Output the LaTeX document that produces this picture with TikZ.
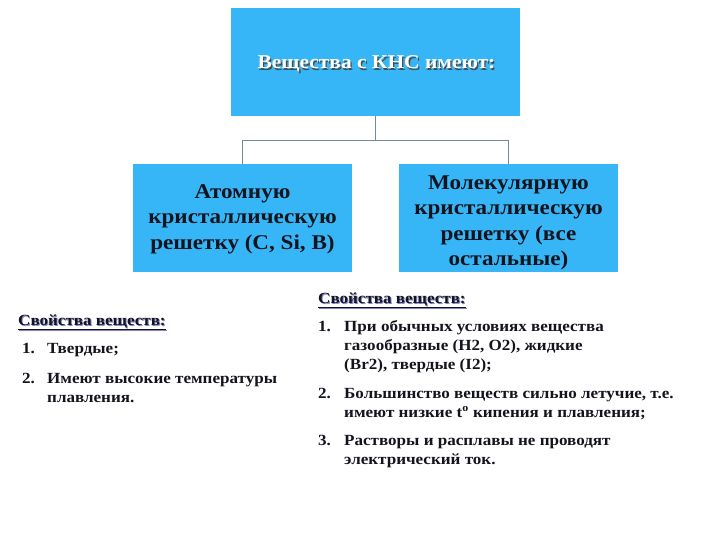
\documentclass[tikz,border=0pt]{standalone}
\usepackage{fontspec}
\setmainfont[FakeStretch=1.1]{Liberation Serif}
\definecolor{boxblue}{RGB}{54,182,246}
\definecolor{linec}{RGB}{110,140,155}
\definecolor{txt}{RGB}{20,20,30}
\newcommand{\lns}[1]{\begin{tabular}[t]{@{}l@{}}#1\end{tabular}}
\tikzset{
  bluebox/.style={fill=boxblue, draw=none, inner sep=0pt, align=center},
  boxtext/.style={font=\bfseries\fontsize{21}{25.5}\selectfont, text=txt, align=center},
  body/.style={anchor=base west, inner sep=0pt, font=\bfseries\fontsize{15.5}{19}\selectfont, text=txt},
  conn/.style={draw=linec, line width=0.9pt}
}
\begin{document}
\begin{tikzpicture}[x=1pt,y=-1pt]
\useasboundingbox (0,0) rectangle (720,540);
\fill[white] (0,0) rectangle (720,540);
% boxes
\node[bluebox, minimum width=289pt, minimum height=108pt] (top) at (375.5,62) {};
\node[font=\bfseries\fontsize{19.5}{23}\selectfont, text=black!70, anchor=base] at (377.8,70.3) {Вещества с КНС имеют:};
\node[font=\bfseries\fontsize{19.5}{23}\selectfont, text=white, anchor=base] (toptext) at (376.5,69) {Вещества с КНС имеют:};
\node[bluebox, minimum width=219pt, minimum height=108pt] (left) at (242.5,218) {};
\node[bluebox, minimum width=219pt, minimum height=108pt] (right) at (508.5,218) {};
\node[boxtext] at ([yshift=-1pt]left.center) {Атомную\\кристаллическую\\решетку (C, Si, B)};
\node[boxtext] at ([yshift=-5pt]right.center) {Молекулярную\\кристаллическую\\решетку (все\\остальные)};
% connectors
\coordinate (j) at (375.5,140);
\draw[conn] (top.south) -- (j);
\draw[conn] (j) -| (left.north);
\draw[conn] (j) -| (right.north);
% left properties
\node[body, text=black!40!blue!50, xshift=1pt, yshift=-1.5pt] at (18,325) {\underline{Свойства веществ:}};
\node[body] (lh) at (18,325) {\underline{Свойства веществ:}};
\node[body] (l1n) at (22,353) {1.};
\node[body] (l1) at (47,353) {Твердые;};
\node[body] (l2n) at (22,383) {2.};
\node[body] (l2) at (47,383) {\lns{Имеют высокие температуры\\плавления.}};
% right properties
\node[body, text=black!40!blue!50, xshift=1pt, yshift=-1.5pt] at (318,303) {\underline{Свойства веществ:}};
\node[body] (rh) at (318,303) {\underline{Свойства веществ:}};
\node[body] (r1n) at (318,331) {1.};
\node[body] (r1) at (344,331) {\lns{При обычных условиях вещества\\газообразные (H2, O2), жидкие\\(Br2), твердые (I2);}};
\node[body] (r2n) at (318,398) {2.};
\node[body] (r2) at (344,398) {\lns{Большинство веществ сильно летучие, т.е.\\имеют низкие t\textsuperscript{o} кипения и плавления;}};
\node[body] (r3n) at (318,445) {3.};
\node[body] (r3) at (344,445) {\lns{Растворы и расплавы не проводят\\электрический ток.}};
\end{tikzpicture}
\end{document}
